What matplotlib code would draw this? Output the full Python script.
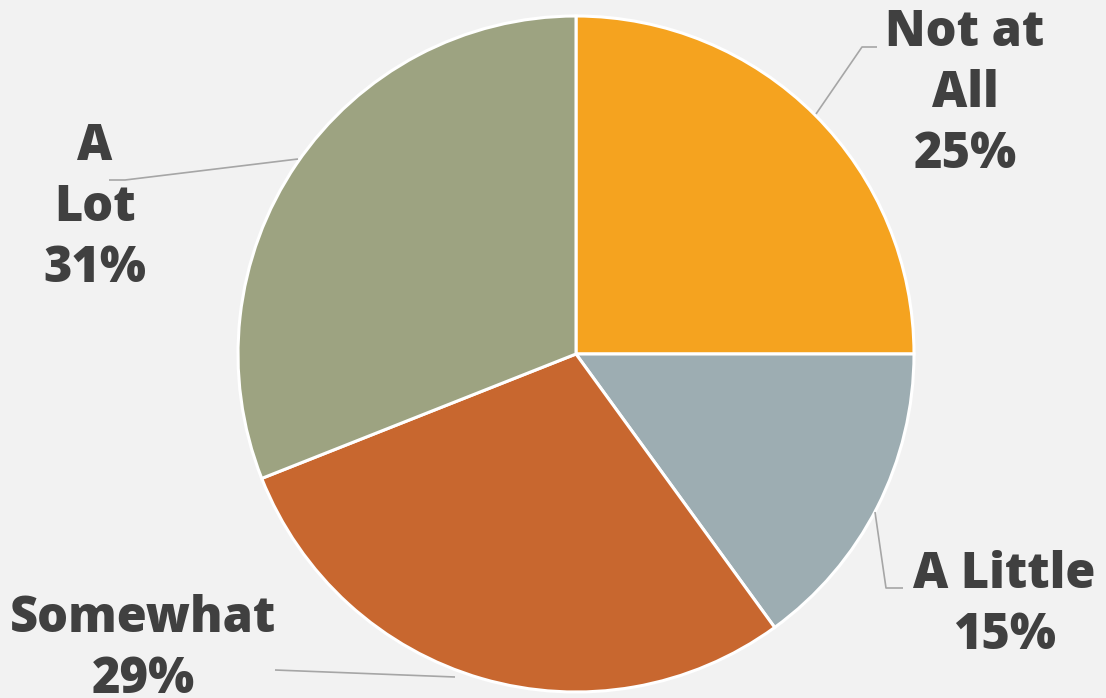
import matplotlib
matplotlib.use("Agg")
import matplotlib.pyplot as plt

categories = ["Not at\nAll", "A Little", "Somewhat", "A Lot"]
values = [25, 15, 29, 31]
colors = ["#F5A31F", "#9DADB2", "#C8672F", "#9DA381"]

W, H = 1106, 698
fig = plt.figure(figsize=(W / 100, H / 100), dpi=100, facecolor="#F2F2F2")
ax = fig.add_axes([0, 0, 1, 1])
ax.set_facecolor("#F2F2F2")

def Y(py):
    return H - py

cx, cy, r = 576, 354, 338
ax.pie(values, colors=colors, startangle=90, counterclock=False,
       center=(cx, Y(cy)), radius=r, frame=True,
       wedgeprops=dict(edgecolor="white", linewidth=2.2))
ax.set_xlim(0, W)
ax.set_ylim(0, H)
ax.set_aspect("equal")
ax.axis("off")

labels = [f"{c}\n{v}%" for c, v in zip(categories, values)]
labels[3] = f"A\nLot\n{values[3]}%"
label_pos = [(965, 46), (1004, 588), (143, 632), (95, 160)]  # first-line baseline
leaders = [
    [(816, 114), (862, 47), (877, 47)],
    [(875, 512), (886, 588), (903, 588)],
    [(455, 677), (275, 670)],
    [(298, 159), (125, 180), (109, 180)],
]
txtcolor = "#404040"
lh = 61
for lab, (x, y), pts in zip(labels, label_pos, leaders):
    for i, line in enumerate(lab.split("\n")):
        ax.text(x, Y(y + i * lh), line, ha="center", va="baseline",
                fontsize=35, fontweight=800, family=["Open Sans", "DejaVu Sans"],
                color=txtcolor)
    xs = [p[0] for p in pts]
    ys = [Y(p[1]) for p in pts]
    ax.plot(xs, ys, color="#A6A6A6", linewidth=1.2, solid_capstyle="butt")

fig.savefig("out.png", dpi=100, facecolor=fig.get_facecolor())
